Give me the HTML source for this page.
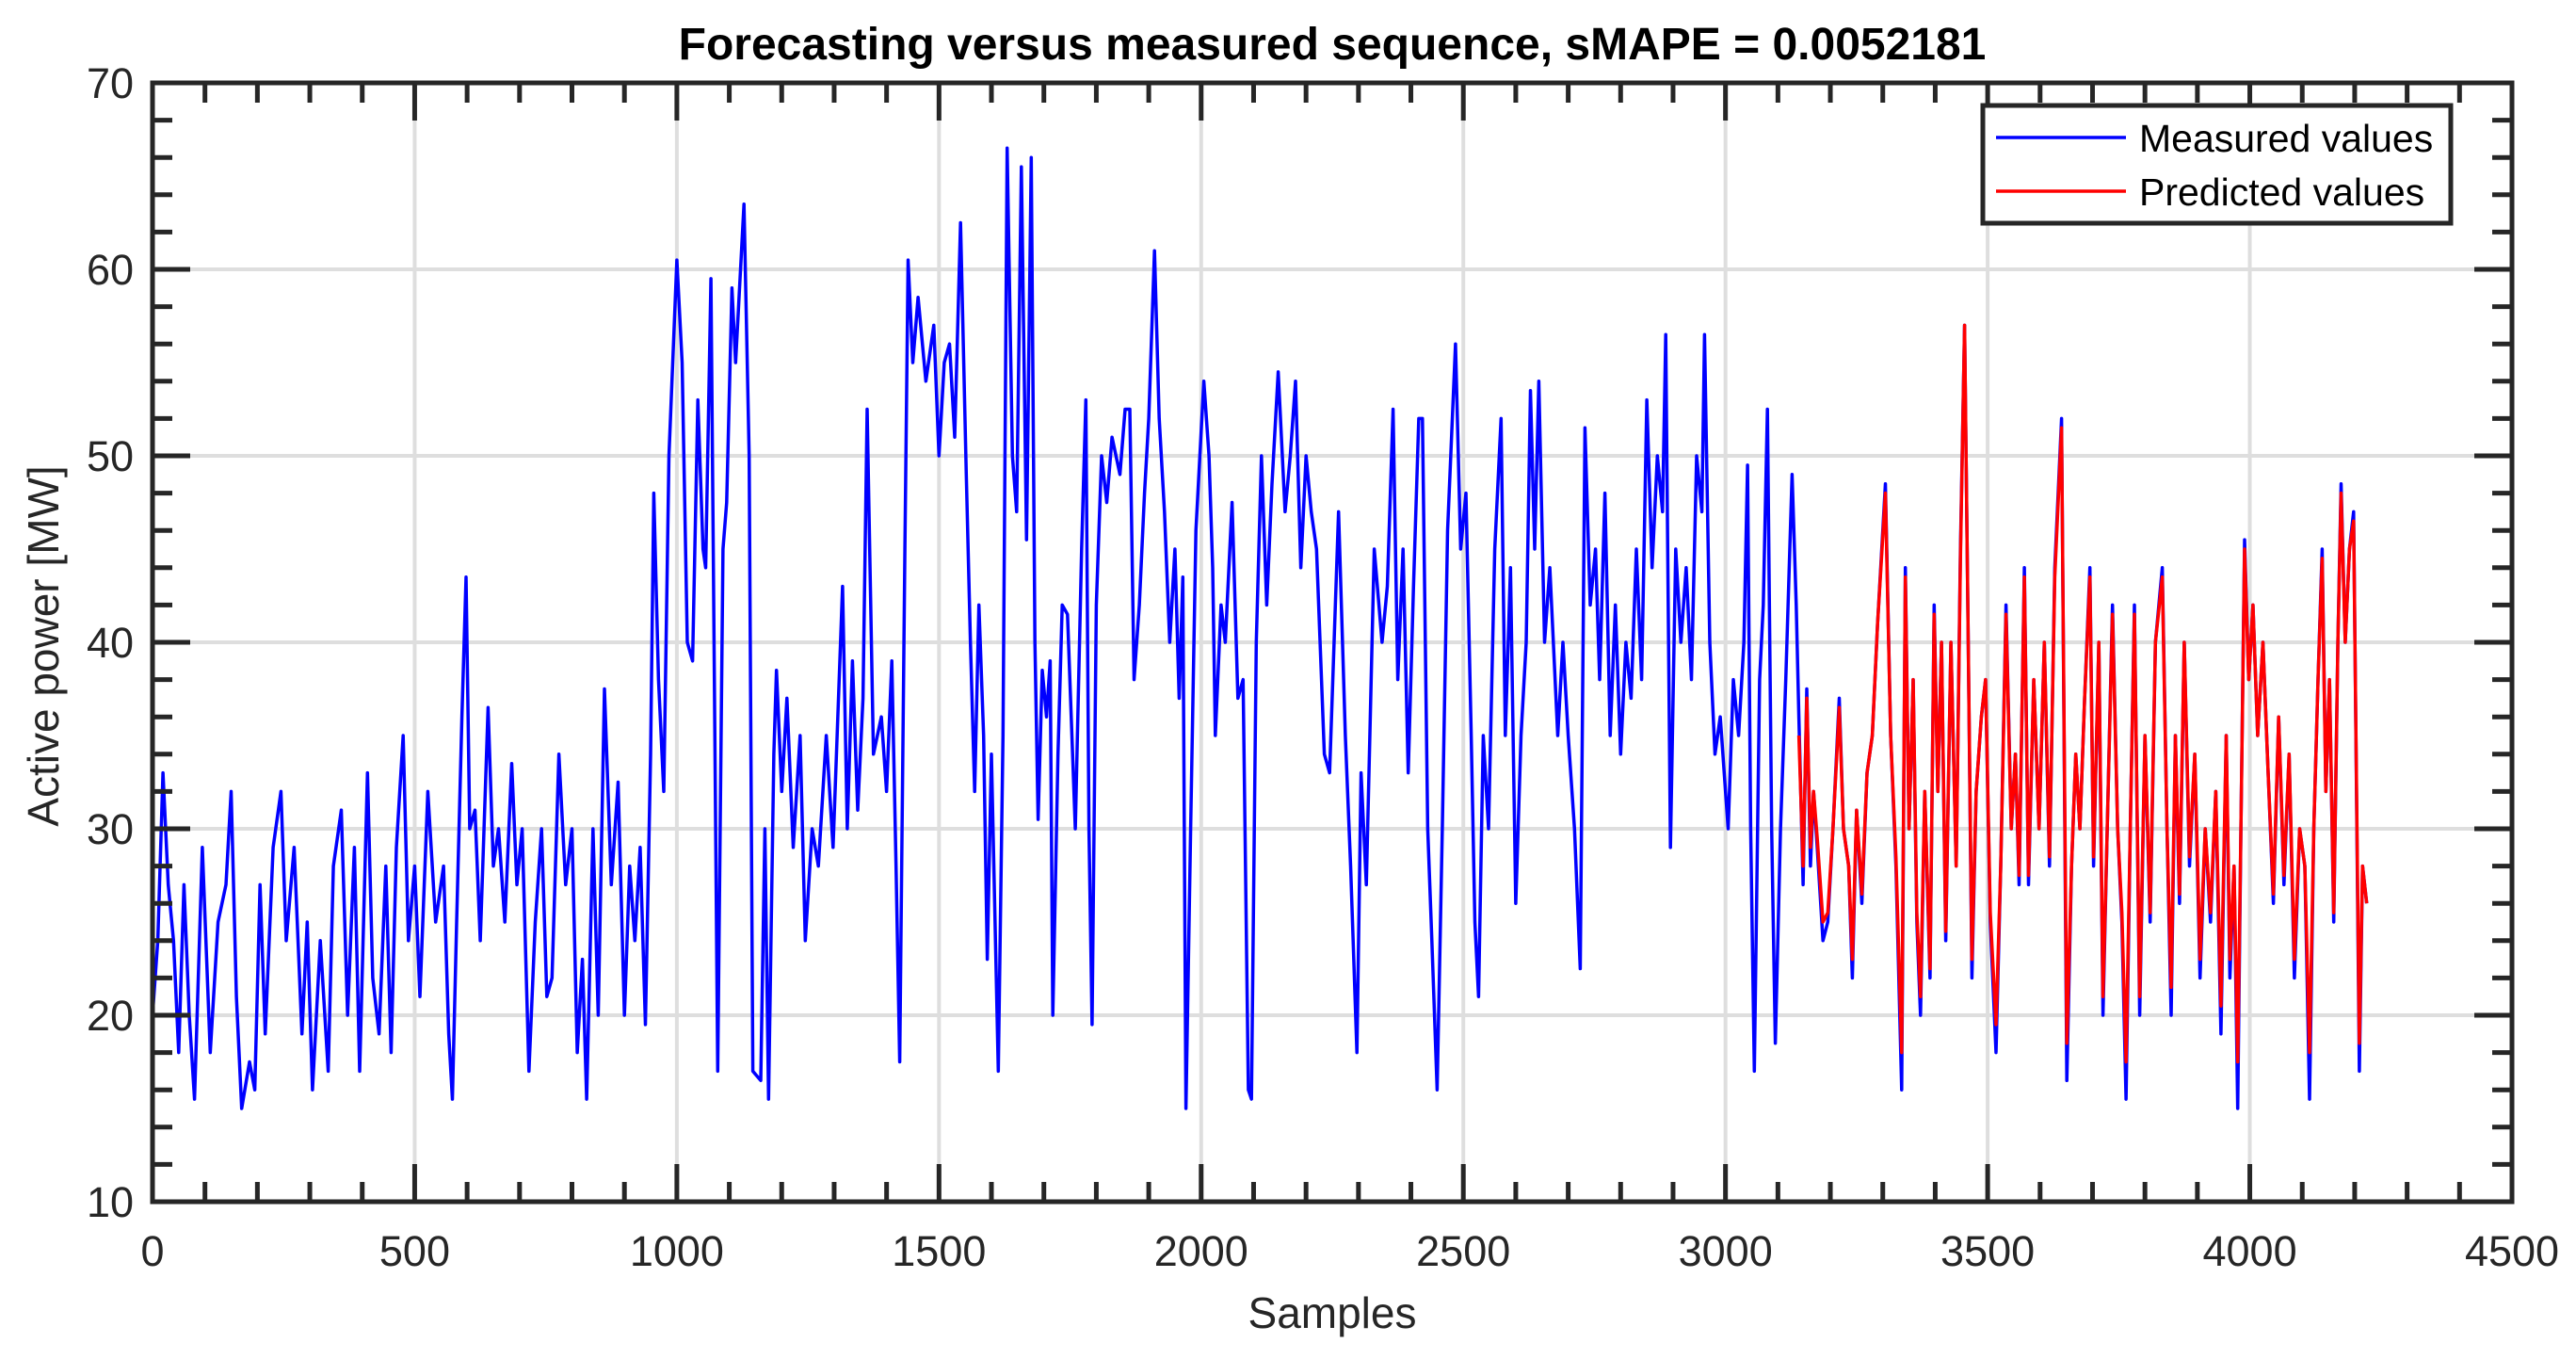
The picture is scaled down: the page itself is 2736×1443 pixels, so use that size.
<!DOCTYPE html>
<html><head><meta charset="utf-8"><style>
html,body{margin:0;padding:0;background:#fff;}
svg{display:block;font-family:"Liberation Sans",sans-serif;}
</style></head><body>
<svg id="chart" width="2736" height="1443" viewBox="0 0 2736 1443">
<rect width="2736" height="1443" fill="#fff"/>
<g id="grid"></g>
<g id="series"></g>
<g id="axes"></g>
<text x="1415" y="63" text-anchor="middle" font-size="48" font-weight="bold" fill="#000">Forecasting versus measured sequence, sMAPE = 0.0052181</text>
<text x="1415" y="1410" text-anchor="middle" font-size="46" fill="#262626">Samples</text>
<text transform="translate(62,686) rotate(-90)" text-anchor="middle" font-size="46" fill="#262626">Active power [MW]</text>
<g>
<rect x="2106" y="112" width="497" height="125" fill="#fff" stroke="#262626" stroke-width="5"/>
<line x1="2120" y1="146" x2="2258" y2="146" stroke="#0000ff" stroke-width="3.5"/>
<text x="2272" y="161" font-size="41" fill="#000">Measured values</text>
<line x1="2120" y1="203" x2="2258" y2="203" stroke="#ff0000" stroke-width="3.5"/>
<text x="2272" y="218" font-size="41" fill="#000">Predicted values</text>
</g>
</svg>
<script>
const xTicks=[0,500,1000,1500,2000,2500,3000,3500,4000,4500];
const yTicks=[10,20,30,40,50,60,70];
const measSamples=[0,10,20,30,40,50,60,70,80,95,110,125,140,150,160,170,185,195,205,215,230,245,255,270,285,295,305,320,335,345,360,372,385,395,410,420,432,445,455,465,478,488,500,510,525,540,555,565,572,580,590,598,605,615,625,640,650,660,672,685,695,705,718,730,742,752,762,775,788,800,810,820,828,840,850,862,875,888,900,910,920,930,940,950,956,965,975,985,1000,1010,1020,1030,1040,1050,1055,1065,1078,1088,1095,1105,1112,1128,1138,1145,1160,1168,1175,1185,1190,1200,1210,1222,1235,1245,1258,1270,1285,1298,1316,1325,1335,1345,1355,1363,1375,1390,1400,1410,1418,1425,1435,1441,1450,1460,1475,1490,1500,1510,1520,1530,1541,1552,1560,1568,1576,1585,1592,1600,1613,1622,1630,1640,1648,1657,1667,1676,1683,1689,1697,1705,1712,1717,1727,1735,1745,1760,1772,1780,1786,1792,1800,1810,1820,1830,1845,1855,1864,1872,1882,1892,1900,1911,1920,1930,1940,1950,1958,1965,1971,1980,1990,2005,2015,2022,2027,2038,2046,2059,2070,2080,2090,2096,2105,2115,2125,2135,2147,2160,2170,2180,2190,2200,2210,2220,2235,2245,2262,2275,2285,2297,2305,2315,2330,2345,2355,2366,2375,2385,2395,2405,2415,2422,2432,2440,2450,2460,2470,2485,2495,2505,2515,2522,2529,2538,2548,2560,2572,2580,2590,2600,2610,2620,2628,2636,2644,2655,2665,2680,2690,2700,2712,2723,2732,2742,2752,2760,2770,2780,2790,2800,2810,2820,2830,2840,2850,2860,2870,2880,2886,2895,2905,2915,2925,2935,2945,2955,2960,2970,2980,2990,3005,3015,3025,3035,3042,3048,3055,3065,3072,3080,3088,3095,3105,3115,3127,3135,3140,3148,3155,3162,3168,3175,3186,3195,3205,3217,3225,3235,3242,3250,3260,3270,3280,3290,3305,3315,3325,3336,3343,3350,3358,3365,3372,3380,3390,3398,3405,3412,3420,3430,3440,3448,3456,3463,3470,3478,3488,3496,3505,3516,3525,3535,3545,3553,3560,3570,3578,3588,3598,3608,3618,3628,3641,3651,3660,3668,3676,3685,3695,3702,3712,3720,3728,3738,3748,3756,3764,3772,3780,3790,3800,3810,3820,3833,3842,3850,3858,3866,3875,3885,3895,3905,3915,3925,3935,3945,3955,3962,3970,3977,3983,3990,3998,4006,4015,4025,4035,4045,4055,4065,4075,4085,4095,4105,4114,4122,4130,4138,4145,4152,4160,4168,4174,4182,4190,4198,4209,4215,4223];
const measValues=[20,24,33,27,24,18,27,20,15.5,29,18,25,27,32,21,15,17.5,16,27,19,29,32,24,29,19,25,16,24,17,28,31,20,29,17,33,22,19,28,18,29,35,24,28,21,32,25,28,19,15.5,25,36,43.5,30,31,24,36.5,28,30,25,33.5,27,30,17,25,30,21,22,34,27,30,18,23,15.5,30,20,37.5,27,32.5,20,28,24,29,19.5,34,48,38,32,50,60.5,55,40,39,53,45,44,59.5,17,45,47.5,59,55,63.5,50,17,16.5,30,15.5,34,38.5,32,37,29,35,24,30,28,35,29,43,30,39,31,37,52.5,34,36,32,39,28,17.5,45,60.5,55,58.5,54,57,50,55,56,51,62.5,49,40,32,42,35,23,34,17,35,66.5,50,47,65.5,45.5,66,40,30.5,38.5,36,39,20,34,42,41.5,30,45,53,30,19.5,42,50,47.5,51,49,52.5,52.5,38,42,48,52,61,52,47,40,45,37,43.5,15,30,46,54,50,44,35,42,40,47.5,37,38,16,15.5,40,50,42,48.5,54.5,47,50,54,44,50,47,45,34,33,47,35,28,18,33,27,45,40,43,52.5,38,45,33,43,52,52,30,24,16,30,46,56,45,48,35,25,21,35,30,45,52,35,44,26,35,40,53.5,45,54,40,44,35,40,35,30,22.5,51.5,42,45,38,48,35,42,34,40,37,45,38,53,44,50,47,56.5,29,45,40,44,38,50,47,56.5,40,34,36,30,38,35,40,49.5,30,17,38,42,52.5,30,18.5,30,38,49,42,36,27,37.5,28,32,29,24,25,30,37,30,28,22,31,26,33,35,41,48.5,35,28,16,44,30,38,25,20,32,22,42,32,40,24,40,28,45,57,40,22,32,36,38,25,18,28,42,30,34,27,44,27,38,30,40,28,44,52,16.5,28,34,30,37,44,28,40,20,30,42,30,25,15.5,30,42,20,35,25,40,44,30,20,35,26,40,28,34,22,30,25,32,19,35,22,28,15,30,45.5,38,42,35,40,33,26,36,27,34,22,30,28,15.5,30,38,45,32,38,25,40,48.5,40,45,47,17,28,26];
const predSamples=[3140,3148,3155,3162,3168,3175,3186,3195,3205,3217,3225,3235,3242,3250,3260,3270,3280,3290,3305,3315,3325,3336,3343,3350,3358,3365,3372,3380,3390,3398,3405,3412,3420,3430,3440,3448,3456,3463,3470,3478,3488,3496,3505,3516,3525,3535,3545,3553,3560,3570,3578,3588,3598,3608,3618,3628,3641,3651,3660,3668,3676,3685,3695,3702,3712,3720,3728,3738,3748,3756,3764,3772,3780,3790,3800,3810,3820,3833,3842,3850,3858,3866,3875,3885,3895,3905,3915,3925,3935,3945,3955,3962,3970,3977,3983,3990,3998,4006,4015,4025,4035,4045,4055,4065,4075,4085,4095,4105,4114,4122,4130,4138,4145,4152,4160,4168,4174,4182,4190,4198,4209,4215,4223];
const predValues=[35,28,37,29,32,29.5,25,25.5,30,36.5,30,28,23,31,26.5,33,35,41,48,35,28.5,18,43.5,30,38,25.5,21,32,22.5,41.5,32,40,24.5,40,28,44.5,57,40,23,32,36,38,25.5,19.5,28,41.5,30,34,27.5,43.5,27.5,38,30,40,28.5,43.5,51.5,18.5,28,34,30,37,43.5,28.5,40,21,30,41.5,30,25.5,17.5,30,41.5,21,35,25.5,40,43.5,30,21.5,35,26.5,40,28.5,34,23,30,25.5,32,20.5,35,23,28,17.5,30,45,38,42,35,40,33,26.5,36,27.5,34,23,30,28,18,30,38,44.5,32,38,25.5,40,48,40,45,46.5,18.5,28,26];
const L=162,R=2668,T=88,B=1276;
const sx=v=>L+(v-0)/4500*(R-L);
const sy=v=>B-(v-10)/60*(B-T);
const NS="http://www.w3.org/2000/svg";
function mk(tag,attrs,parent){const e=document.createElementNS(NS,tag);for(const k in attrs)e.setAttribute(k,attrs[k]);parent.appendChild(e);return e;}
const grid=document.getElementById('grid'),axes=document.getElementById('axes'),series=document.getElementById('series');
xTicks.forEach(t=>{if(t>0&&t<4500){const g=mk('line',{x1:sx(t),x2:sx(t),y1:T,y2:B,stroke:'#dedede','stroke-width':4},grid);

}});
yTicks.forEach(t=>{if(t>10&&t<70){const g=mk('line',{x1:L,x2:R,y1:sy(t),y2:sy(t),stroke:'#dedede','stroke-width':4},grid);

}});
function poly(xs,ys,color,name){const pts=xs.map((x,i)=>sx(x).toFixed(1)+','+sy(ys[i]).toFixed(1)).join(' ');
const p=mk('polyline',{points:pts,fill:'none',stroke:color,'stroke-width':3.5,'stroke-linejoin':'round'},series);

}
poly(measSamples,measValues,'#0000ff','measured-line');
poly(predSamples,predValues,'#ff0000','predicted-line');
const ax=mk('rect',{x:L,y:T,width:R-L,height:B-T,fill:'none',stroke:'#262626','stroke-width':5},axes);


for(let v=0;v<=4500;v+=100){const maj=v%500===0;const len=maj?40:21;
mk('line',{x1:sx(v),x2:sx(v),y1:B,y2:B-len,stroke:'#262626','stroke-width':5},axes);
mk('line',{x1:sx(v),x2:sx(v),y1:T,y2:T+len,stroke:'#262626','stroke-width':5},axes);}
for(let v=10;v<=70;v+=2){const maj=v%10===0;const len=maj?40:21;
mk('line',{x1:L,x2:L+len,y1:sy(v),y2:sy(v),stroke:'#262626','stroke-width':5},axes);
mk('line',{x1:R,x2:R-len,y1:sy(v),y2:sy(v),stroke:'#262626','stroke-width':5},axes);}
xTicks.forEach(t=>{const e=mk('text',{x:sx(t),y:1344,'text-anchor':'middle','font-size':45,fill:'#262626'},axes);e.textContent=t;

});
yTicks.forEach(t=>{const e=mk('text',{x:142,y:sy(t)+16,'text-anchor':'end','font-size':45,fill:'#262626'},axes);e.textContent=t;

});
</script>
</body></html>
